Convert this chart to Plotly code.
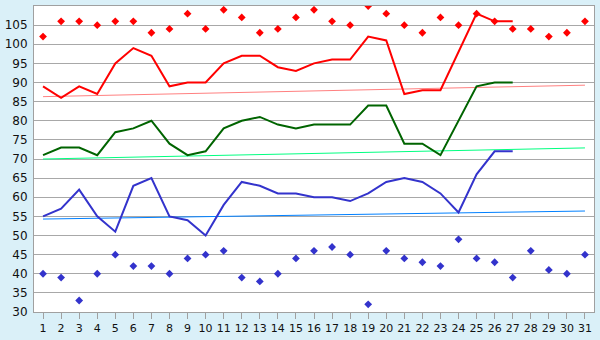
import plotly.graph_objects as go

days = list(range(1, 32))
line_days = list(range(1, 28))

red_line = [89, 86, 89, 87, 95, 99, 97, 89, 90, 90, 95, 97, 97, 94, 93, 95, 96, 96, 102, 101, 87, 88, 88, 98, 108, 106, 106]
red_pts = [102, 106, 106, 105, 106, 106, 103, 104, 108, 104, 109, 107, 103, 104, 107, 109, 106, 105, 110, 108,
           105, 103, 107, 105, 108, 106, 104, 104, 102, 103, 106]
red_trend = [86.3, 89.3]

green_line = [71, 73, 73, 71, 77, 78, 80, 74, 71, 72, 78, 80, 81, 79, 78, 79, 79, 79, 84, 84, 74, 74, 71, 80, 89, 90, 90]
green_trend = [70.0, 72.9]

blue_line = [55, 57, 62, 55, 51, 63, 65, 55, 54, 50, 58, 64, 63, 61, 61, 60, 60, 59, 61, 64, 65, 64, 61, 56, 66, 72, 72]
blue_pts = [40, 39, 33, 40, 45, 42, 42, 40, 44, 45, 46, 39, 38, 40, 44, 46, 47, 45, 32, 46,
            44, 43, 42, 49, 44, 43, 39, 46, 41, 40, 45]
blue_trend = [54.3, 56.4]

trend_x = [1, 31]

fig = go.Figure()
fig.add_trace(go.Scatter(x=trend_x, y=red_trend, mode="lines", line=dict(color="#ff8080", width=1)))
fig.add_trace(go.Scatter(x=trend_x, y=green_trend, mode="lines", line=dict(color="#00ff80", width=1)))
fig.add_trace(go.Scatter(x=trend_x, y=blue_trend, mode="lines", line=dict(color="#0080ff", width=1)))
fig.add_trace(go.Scatter(x=line_days, y=red_line, mode="lines", line=dict(color="#ff0000", width=2)))
fig.add_trace(go.Scatter(x=line_days, y=green_line, mode="lines", line=dict(color="#006400", width=2)))
fig.add_trace(go.Scatter(x=line_days, y=blue_line, mode="lines", line=dict(color="#3333cc", width=2)))
fig.add_trace(go.Scatter(x=days, y=red_pts, mode="markers",
                         marker=dict(symbol="diamond", size=6, color="#ff0000", line=dict(width=0))))
fig.add_trace(go.Scatter(x=days, y=blue_pts, mode="markers",
                         marker=dict(symbol="diamond", size=6, color="#3333cc", line=dict(width=0))))

fig.update_layout(
    width=600, height=340,
    margin=dict(l=26, r=5, t=5, b=20),
    paper_bgcolor="#daf0f8",
    plot_bgcolor="#ffffff",
    showlegend=False,
    font=dict(family="DejaVu Sans", size=12, color="#111111"),
)
fig.update_xaxes(
    range=[0.5, 31.5], tickmode="array", tickvals=days, ticktext=[str(d) for d in days],
    showgrid=False, zeroline=False, showline=True, linecolor="#a0a0a0", linewidth=1, mirror=True,
    ticks="outside", ticklen=6, tickcolor="#a0a0a0", tickwidth=1, tickfont=dict(size=11),
)
fig.update_yaxes(
    range=[30, 110], dtick=5, tick0=30,
    showgrid=True, gridcolor="#a8a8a8", gridwidth=1, zeroline=False,
    showline=True, linecolor="#a0a0a0", linewidth=1, mirror=True,
    ticks="", ticklabelstandoff=3,
)

fig.write_html("out.html")
